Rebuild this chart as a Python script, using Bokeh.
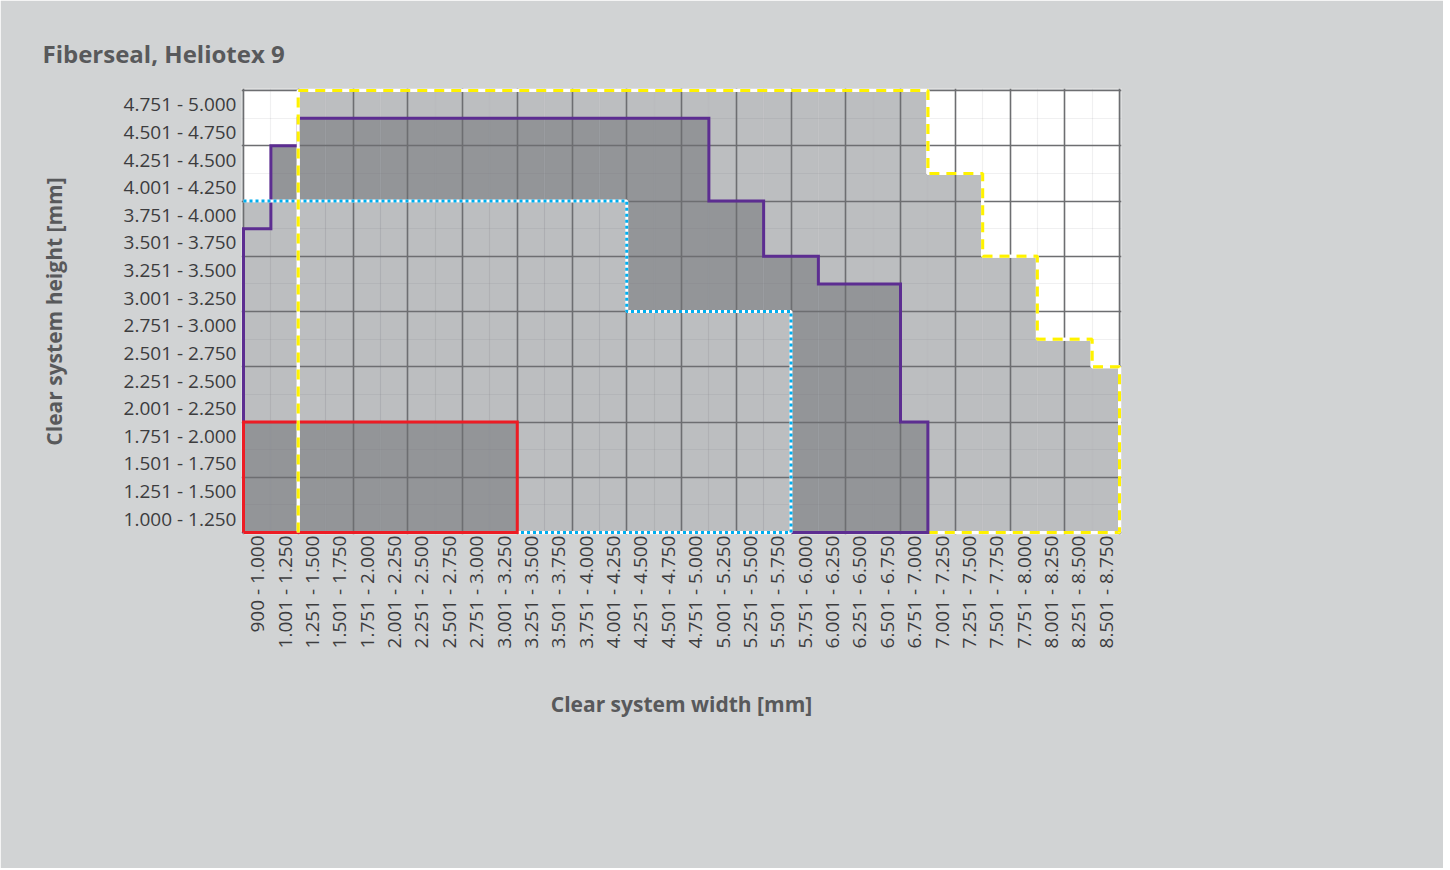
import math
from bokeh.plotting import figure
from bokeh.models import Range1d, FixedTicker, Title
from bokeh.embed import file_html
from bokeh.resources import INLINE

# ---------------- data ----------------
title_text = "Fiberseal, Heliotex 9"
x_title = "Clear system width [mm]"
y_title = "Clear system height [mm]"

width_labels = [
    "900 - 1.000", "1.001 - 1.250", "1.251 - 1.500", "1.501 - 1.750",
    "1.751 - 2.000", "2.001 - 2.250", "2.251 - 2.500", "2.501 - 2.750",
    "2.751 - 3.000", "3.001 - 3.250", "3.251 - 3.500", "3.501 - 3.750",
    "3.751 - 4.000", "4.001 - 4.250", "4.251 - 4.500", "4.501 - 4.750",
    "4.751 - 5.000", "5.001 - 5.250", "5.251 - 5.500", "5.501 - 5.750",
    "5.751 - 6.000", "6.001 - 6.250", "6.251 - 6.500", "6.501 - 6.750",
    "6.751 - 7.000", "7.001 - 7.250", "7.251 - 7.500", "7.501 - 7.750",
    "7.751 - 8.000", "8.001 - 8.250", "8.251 - 8.500", "8.501 - 8.750",
]
height_labels = [
    "1.000 - 1.250", "1.251 - 1.500", "1.501 - 1.750", "1.751 - 2.000",
    "2.001 - 2.250", "2.251 - 2.500", "2.501 - 2.750", "2.751 - 3.000",
    "3.001 - 3.250", "3.251 - 3.500", "3.501 - 3.750", "3.751 - 4.000",
    "4.001 - 4.250", "4.251 - 4.500", "4.501 - 4.750", "4.751 - 5.000",
]
height_min_mm = 1000
height_step_mm = 250

# maximum clear height [mm] per width column (0 = not available)
yellow_max = [0, 0, 5000, 5000, 5000, 5000, 5000, 5000, 5000, 5000, 5000, 5000,
              5000, 5000, 5000, 5000, 5000, 5000, 5000, 5000, 5000, 5000, 5000, 5000,
              5000, 4250, 4250, 3500, 3500, 2750, 2750, 2500]
purple_max = [3750, 4500, 4750, 4750, 4750, 4750, 4750, 4750, 4750, 4750, 4750, 4750,
              4750, 4750, 4750, 4750, 4750, 4000, 4000, 3500, 3500, 3250, 3250, 3250,
              2000, 0, 0, 0, 0, 0, 0, 0]
blue_max = [4000, 4000, 4000, 4000, 4000, 4000, 4000, 4000, 4000, 4000, 4000, 4000,
            4000, 4000, 3000, 3000, 3000, 3000, 3000, 3000, 0, 0, 0, 0,
            0, 0, 0, 0, 0, 0, 0, 0]
red_max = [2000, 2000, 2000, 2000, 2000, 2000, 2000, 2000, 2000, 2000, 0, 0,
           0, 0, 0, 0, 0, 0, 0, 0, 0, 0, 0, 0,
           0, 0, 0, 0, 0, 0, 0, 0]

# ---------------- styles ----------------
PANEL = "#d1d3d4"
LIGHT = "#bcbec0"
DARK = "#939598"
GRID = "#6d6e71"
TEXT = "#58595b"
TICK = "#3c3c3e"
YELLOW = "#fff200"
PURPLE = "#5c2d91"
BLUE = "#00aeef"
RED = "#ed1c24"

ncol = len(width_labels)
nrow = len(height_labels)


def rows(hs):
    return [(h - height_min_mm) / height_step_mm if h > 0 else 0 for h in hs]


yr = rows(yellow_max)
pr = rows(purple_max)
br = rows(blue_max)
rr = rows(red_max)
union_r = [max(a, b) for a, b in zip(yr, br)]


def span(r):
    idx = [k for k, v in enumerate(r) if v > 0]
    return idx[0], idx[-1] + 1


def steps(r):
    s, e = span(r)
    xs, ys = [], []
    for k in range(s, e):
        xs += [k, k + 1]
        ys += [r[k], r[k]]
    return s, e, xs, ys


px_pad_x = 2 / 27.375
px_pad_y = 2 / 27.625

p = figure(width=1443, height=868, output_backend="svg", toolbar_location=None,
           x_range=Range1d(-px_pad_x, ncol + px_pad_x),
           y_range=Range1d(-px_pad_y, nrow + px_pad_y),
           min_border_left=241, min_border_right=322,
           min_border_top=88, min_border_bottom=334)
p.background_fill_color = PANEL
p.border_fill_color = PANEL
p.outline_line_color = None

# fills
cols = list(range(ncol))
rights = [c + 1 for c in cols]
p.quad(left=[0], right=[ncol], bottom=[0], top=[nrow], fill_color="white",
       line_color=None, level="image")
p.quad(left=cols, right=rights, bottom=0, top=union_r,
       fill_color=LIGHT, line_color=None, level="image")
p.quad(left=cols, right=rights, bottom=0, top=pr,
       fill_color=DARK, line_color=None, level="image")
p.quad(left=cols, right=rights, bottom=0, top=br,
       fill_color=LIGHT, line_color=None, level="image")
p.quad(left=cols, right=rights, bottom=0, top=rr,
       fill_color=DARK, line_color=None, level="image")

# grid
p.xgrid.ticker = FixedTicker(ticks=list(range(0, ncol + 1, 2)),
                             minor_ticks=list(range(1, ncol, 2)))
p.ygrid.ticker = FixedTicker(ticks=list(range(0, nrow + 1, 2)),
                             minor_ticks=list(range(1, nrow, 2)))
for g in (p.xgrid, p.ygrid):
    g.grid_line_color = GRID
    g.grid_line_width = 1.6
    g.minor_grid_line_color = GRID
    g.minor_grid_line_alpha = 0.1
    g.minor_grid_line_width = 1.2

YDASH = "10 7"

# outlines
s, e, xs, ys = steps(yr)
y_closed_x = [s] + xs + [e, s]
y_closed_y = [0] + ys + [0, 0]
p.line(y_closed_x, y_closed_y, line_color="white", line_width=3)
p.line(y_closed_x, y_closed_y, line_color=YELLOW, line_width=3, line_dash=YDASH)

s, e, xs, ys = steps(pr)
p.line([s] + xs + [e, s], [0] + ys + [0, 0], line_color=PURPLE, line_width=3,
       line_join="miter")

s, e, xs, ys = steps(br)
bx = xs + [e, s]
by = ys + [0, 0]
p.line(bx, by, line_color="white", line_width=3)
p.line(bx, by, line_color=BLUE, line_width=3, line_dash="3 3")

s, e, xs, ys = steps(rr)
p.line([s] + xs + [e, s], [0] + ys + [0, 0], line_color=RED, line_width=3,
       line_join="miter")

s, e, xs, ys = steps(yr)
yo_x = [s] + xs + [e]
yo_y = [0] + ys + [0]
p.line(yo_x, yo_y, line_color="white", line_width=3)
p.line(yo_x, yo_y, line_color=YELLOW, line_width=3, line_dash=YDASH)

# axes
p.xaxis.ticker = FixedTicker(ticks=[k + 0.5 for k in range(ncol)])
p.xaxis.major_label_overrides = {k + 0.5: lab for k, lab in enumerate(width_labels)}
p.yaxis.ticker = FixedTicker(ticks=[k + 0.5 for k in range(nrow)])
p.yaxis.major_label_overrides = {k + 0.5: lab for k, lab in enumerate(height_labels)}
p.xaxis.major_label_orientation = math.pi / 2

for ax in (p.xaxis, p.yaxis):
    ax.axis_line_color = None
    ax.major_tick_line_color = None
    ax.minor_tick_line_color = None
    ax.major_label_text_font = "Open Sans"
    ax.major_label_text_font_size = "19px"
    ax.major_label_text_color = TICK
    ax.axis_label_text_font = "Open Sans"
    ax.axis_label_text_font_size = "21px"
    ax.axis_label_text_font_style = "bold"
    ax.axis_label_text_color = TEXT

p.xaxis.axis_label = x_title
p.yaxis.axis_label = y_title
p.xaxis.major_label_standoff = -5
p.yaxis.major_label_standoff = -1
p.xaxis.axis_label_standoff = 39
p.yaxis.axis_label_standoff = 53

p.title = Title(text=title_text, align="left", offset=-199,
                text_font="Open Sans", text_font_size="24px",
                text_font_style="bold", text_color=TEXT, standoff=38)

open("out.html", "w").write(file_html(p, INLINE))
